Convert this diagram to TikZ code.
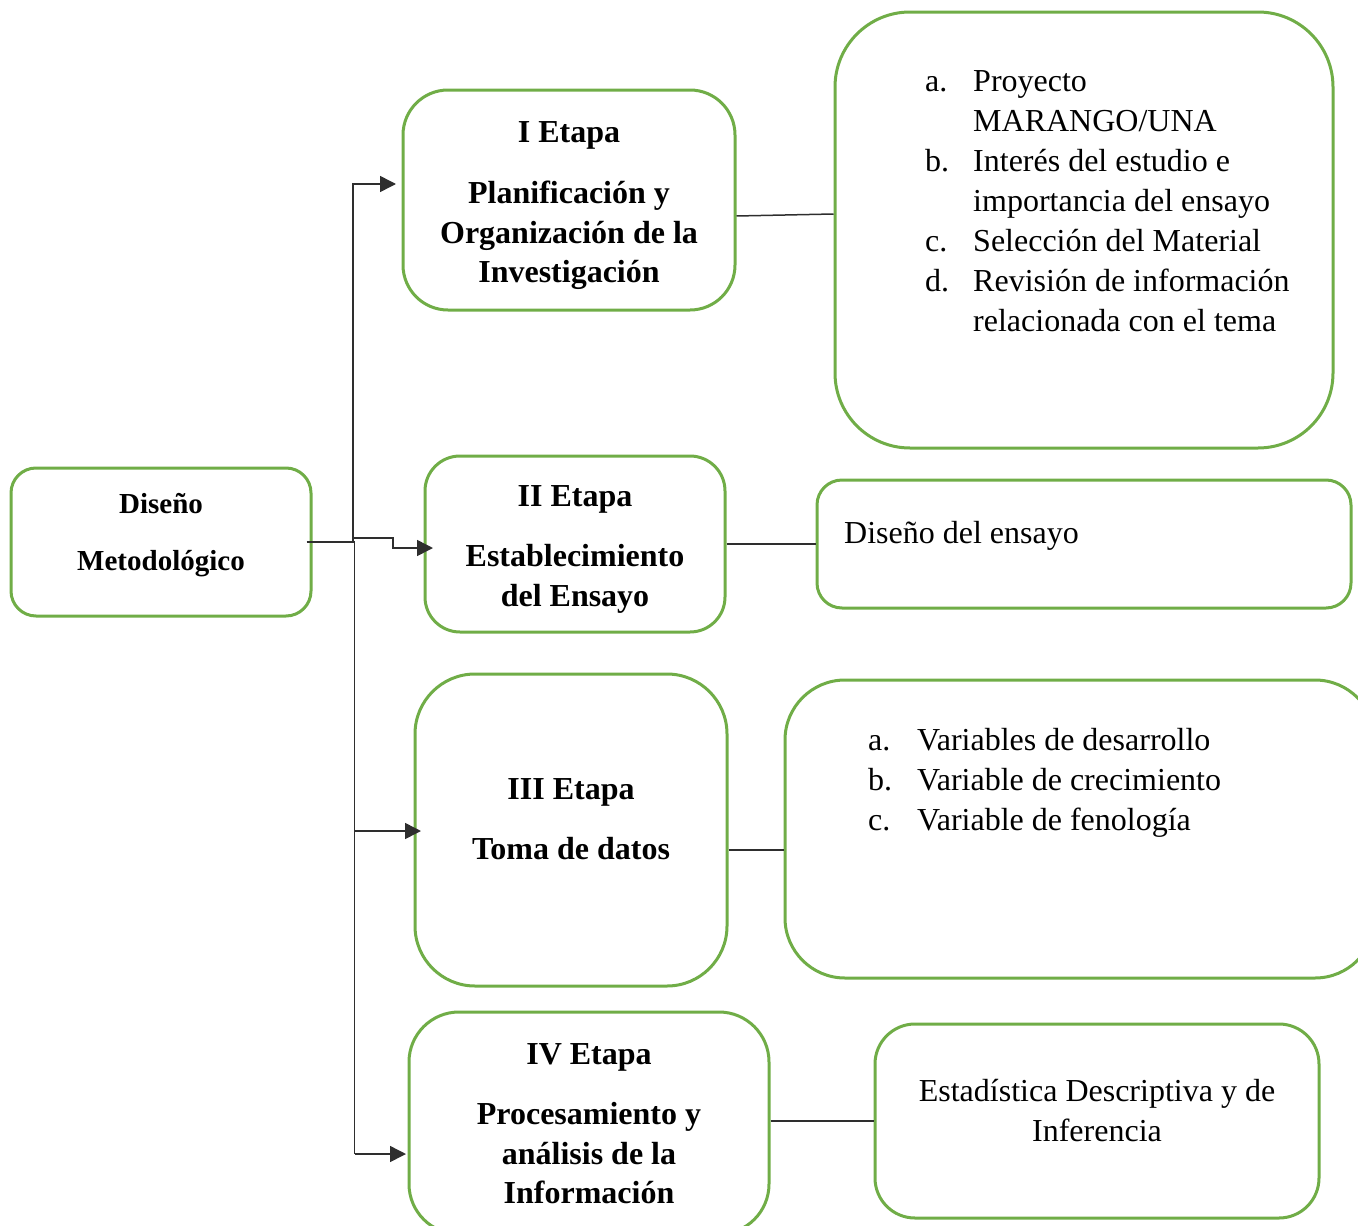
\documentclass[tikz,border=0pt]{standalone}
\usepackage{fontspec}
\setmainfont{Liberation Serif}
\usetikzlibrary{arrows.meta}
\definecolor{boxgreen}{HTML}{70AD47}
\definecolor{linegray}{HTML}{2E2E2E}
\tikzset{
  gbox/.style={draw=boxgreen, line width=3pt, rectangle, inner sep=0pt},
  ttl/.style={anchor=base, font=\fontsize{32}{40}\selectfont\bfseries, inner sep=0pt},
  ttls/.style={anchor=base, font=\fontsize{29}{36}\selectfont\bfseries, inner sep=0pt},
  txt/.style={anchor=base west, font=\fontsize{32}{40}\selectfont, inner sep=0pt},
  txtc/.style={anchor=base, font=\fontsize{32}{40}\selectfont, inner sep=0pt},
  conn/.style={draw=linegray, line width=1.5pt},
  arr/.style={conn, -{Triangle[length=16pt,width=16pt]}},
}
\begin{document}
\begin{tikzpicture}[x=1pt,y=-1pt]
\useasboundingbox (0,0) rectangle (1358,1226);
\clip (0,0) rectangle (1358,1226);
% boxes
\node[gbox, minimum width=300pt, minimum height=148pt, rounded corners=25pt] (d) at (161,542) {};
\node[gbox, minimum width=332pt, minimum height=220pt, rounded corners=45pt] (e1) at (569,200) {};
\node[gbox, minimum width=498pt, minimum height=436pt, rounded corners=75pt] (a) at (1084,230) {};
\node[gbox, minimum width=300pt, minimum height=176pt, rounded corners=35pt] (e2) at (575,544) {};
\node[gbox, minimum width=534pt, minimum height=128pt, rounded corners=25pt] (b) at (1084,544) {};
\node[gbox, minimum width=312pt, minimum height=312pt, rounded corners=60pt] (e3) at (571,830) {};
\node[gbox, minimum width=590pt, minimum height=298pt, rounded corners=60pt] (c) at (1080,829) {};
\node[gbox, minimum width=360pt, minimum height=222pt, rounded corners=50pt] (e4) at (589,1123) {};
\node[gbox, minimum width=444pt, minimum height=194pt, rounded corners=40pt] (dd) at (1097,1121) {};
% texts
\node[ttls] (dt1) at (161,513) {Diseño};
\node[ttls] (dt2) at (161,570) {Metodológico};
\node[ttl] (e1t1) at (569,142) {I Etapa};
\node[ttl] (e1t2) at (569,203) {Planificación y};
\node[ttl] (e1t3) at (569,243) {Organización de la};
\node[ttl] (e1t4) at (569,282) {Investigación};
\node[ttl] (e2t1) at (575,506) {II Etapa};
\node[ttl] (e2t2) at (575,566) {Establecimiento};
\node[ttl] (e2t3) at (575,606) {del Ensayo};
\node[ttl] (e3t1) at (571,799) {III Etapa};
\node[ttl] (e3t2) at (571,859) {Toma de datos};
\node[ttl] (e4t1) at (589,1064) {IV Etapa};
\node[ttl] (e4t2) at (589,1124) {Procesamiento y};
\node[ttl] (e4t3) at (589,1164) {análisis de la};
\node[ttl] (e4t4) at (589,1203) {Información};
% list A
\node[txt] (la1) at (925,91) {a.};
\node[txt] (ta1) at (973,91) {Proyecto};
\node[txt] (ta1b) at (973,131) {MARANGO/UNA};
\node[txt] (la2) at (925,171) {b.};
\node[txt] (ta2) at (973,171) {Interés del estudio e};
\node[txt] (ta2b) at (973,211) {importancia del ensayo};
\node[txt] (la3) at (925,251) {c.};
\node[txt] (ta3) at (973,251) {Selección del Material};
\node[txt] (la4) at (925,291) {d.};
\node[txt] (ta4) at (973,291) {Revisión de información};
\node[txt] (ta4b) at (973,331) {relacionada con el tema};
% box B
\node[txt] (tb) at (844,543) {Diseño del ensayo};
% list C
\node[txt] (lc1) at (868,750) {a.};
\node[txt] (tc1) at (917,750) {Variables de desarrollo};
\node[txt] (lc2) at (868,790) {b.};
\node[txt] (tc2) at (917,790) {Variable de crecimiento};
\node[txt] (lc3) at (868,830) {c.};
\node[txt] (tc3) at (917,830) {Variable de fenología};
% box D
\node[txtc] (td1) at (1097,1101) {Estadística Descriptiva y de};
\node[txtc] (td2) at (1097,1141) {Inferencia};
% connector coordinates
\coordinate (j) at (354.5,542);
\coordinate (t1a) at (353,542);
\coordinate (t1b) at (353,184);
\coordinate (p1) at (396,184);
\coordinate (s2a) at (353,538);
\coordinate (s2b) at (393,538);
\coordinate (s2c) at (393,548);
\coordinate (p2) at (433,548);
\coordinate (s3) at (354.5,831);
\coordinate (p3) at (421,831);
\coordinate (s4) at (354.5,1154);
\coordinate (p4) at (406,1154);
% connectors
\draw[conn] ([xshift=-6pt]d.east) -- (j);
\draw[arr] (t1a) -- (t1b) -- (p1);
\draw[arr] (s2a) -- (s2b) -- (s2c) -- (p2);
\draw[conn] (j) -- (s4);
\draw[arr] (s3) -- (p3);
\draw[arr] (s4) -- (p4);
\draw[conn] ([yshift=-16pt]e1.east) -- ([yshift=16pt]a.west);
\draw[conn] (e2.east) -- (b.west);
\draw[conn] ([yshift=-20pt]e3.east) -- ([yshift=-21pt]c.west);
\draw[conn] ([yshift=2pt]e4.east) -- (dd.west);
\end{tikzpicture}
\end{document}
